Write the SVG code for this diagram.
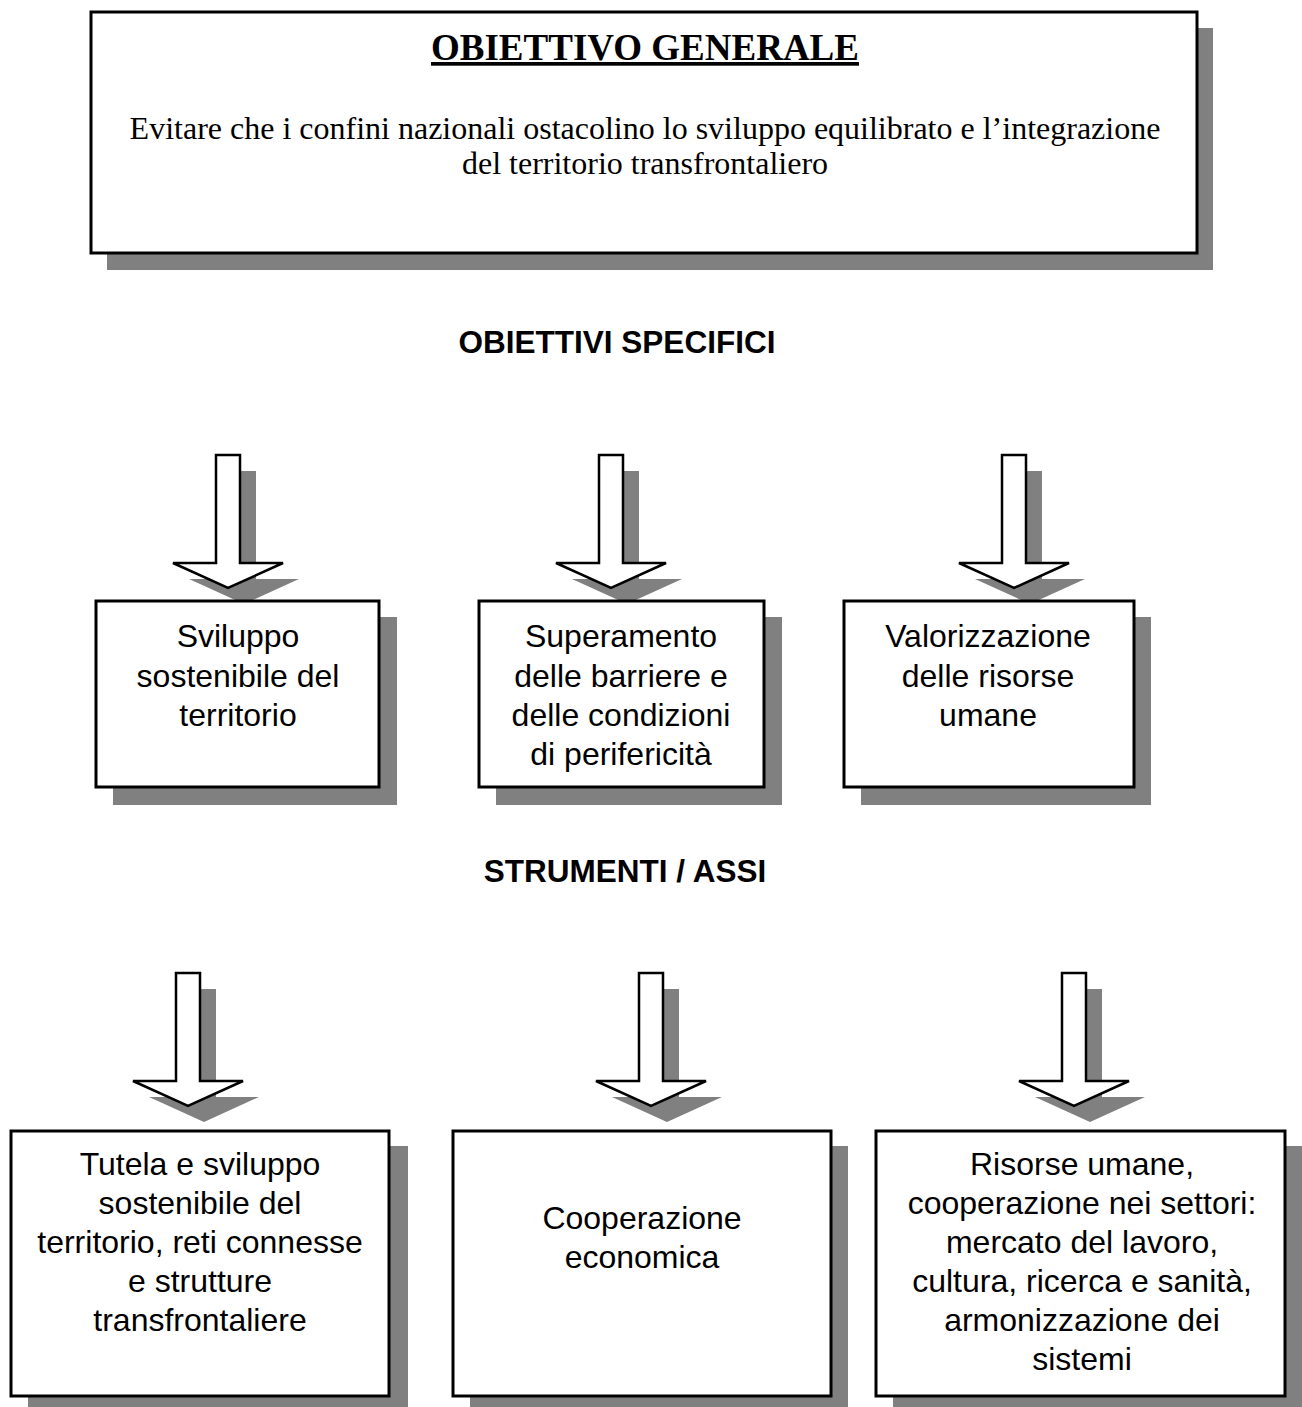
<svg xmlns="http://www.w3.org/2000/svg" xmlns:xlink="http://www.w3.org/1999/xlink" width="1302" height="1407" viewBox="0 0 1302 1407">
<style>
.box{fill:#fff;stroke:#000;stroke-width:3}
.sh{fill:#808080}
.arr{fill:#fff;stroke:#000;stroke-width:2.5;stroke-linejoin:miter}
.t{font-family:"Liberation Sans",Arial,sans-serif;font-size:32px;fill:#000;text-anchor:middle}
.h{font-family:"Liberation Sans",Arial,sans-serif;font-size:31.5px;font-weight:bold;fill:#000;text-anchor:middle}
.s{font-family:"Liberation Serif","Times New Roman",serif;fill:#000;text-anchor:middle}
</style>
<defs>
<polygon id="arrow" points="-12,0 12,0 12,108 55,108 0,133 -55,108 -12,108"/>
</defs>
<rect width="1302" height="1407" fill="#fff"/>
<g id="general">
<rect class="sh" x="107" y="28" width="1106" height="242"/>
<rect class="box" x="91" y="12" width="1106" height="241"/>
<text class="s" x="645" y="60" font-size="37" font-weight="bold" text-decoration="underline">OBIETTIVO GENERALE</text>
<text class="s" x="645" y="139" font-size="32">Evitare che i confini nazionali ostacolino lo sviluppo equilibrato e l’integrazione</text>
<text class="s" x="645" y="174" font-size="32">del territorio transfrontaliero</text>
</g>
<g id="header-specifici"><text class="h" x="617" y="353">OBIETTIVI SPECIFICI</text></g>
<g id="header-strumenti"><text class="h" x="625" y="882">STRUMENTI / ASSI</text></g>
<g id="connectors">
<use href="#arrow" class="sh" x="244" y="471"/>
<use href="#arrow" class="arr" x="228" y="455"/>
<use href="#arrow" class="sh" x="627" y="471"/>
<use href="#arrow" class="arr" x="611" y="455"/>
<use href="#arrow" class="sh" x="1030" y="471"/>
<use href="#arrow" class="arr" x="1014" y="455"/>
<use href="#arrow" class="sh" x="204" y="989"/>
<use href="#arrow" class="arr" x="188" y="973"/>
<use href="#arrow" class="sh" x="667" y="989"/>
<use href="#arrow" class="arr" x="651" y="973"/>
<use href="#arrow" class="sh" x="1090" y="989"/>
<use href="#arrow" class="arr" x="1074" y="973"/>
</g>
<g id="spec1">
<rect class="sh" x="113" y="617" width="284" height="188"/>
<rect class="box" x="96" y="601" width="283" height="186"/>
<text class="t" x="238" y="647">Sviluppo</text>
<text class="t" x="238" y="687">sostenibile del</text>
<text class="t" x="238" y="726">territorio</text>
</g>
<g id="spec2">
<rect class="sh" x="496" y="617" width="286" height="188"/>
<rect class="box" x="479" y="601" width="285" height="186"/>
<text class="t" x="621" y="647">Superamento</text>
<text class="t" x="621" y="687">delle barriere e</text>
<text class="t" x="621" y="726">delle condizioni</text>
<text class="t" x="621" y="765">di perifericità</text>
</g>
<g id="spec3">
<rect class="sh" x="861" y="617" width="290" height="188"/>
<rect class="box" x="844" y="601" width="290" height="186"/>
<text class="t" x="988" y="647">Valorizzazione</text>
<text class="t" x="988" y="687">delle risorse</text>
<text class="t" x="988" y="726">umane</text>
</g>
<g id="asse1">
<rect class="sh" x="28" y="1146" width="380" height="270"/>
<rect class="box" x="11" y="1131" width="378" height="265"/>
<text class="t" x="200" y="1175">Tutela e sviluppo</text>
<text class="t" x="200" y="1214">sostenibile del</text>
<text class="t" x="200" y="1253">territorio, reti connesse</text>
<text class="t" x="200" y="1292">e strutture</text>
<text class="t" x="200" y="1331">transfrontaliere</text>
</g>
<g id="asse2">
<rect class="sh" x="470" y="1146" width="378" height="270"/>
<rect class="box" x="453" y="1131" width="378" height="265"/>
<text class="t" x="642" y="1229">Cooperazione</text>
<text class="t" x="642" y="1268">economica</text>
</g>
<g id="asse3">
<rect class="sh" x="893" y="1146" width="410" height="270"/>
<rect class="box" x="876" y="1131" width="409" height="265"/>
<text class="t" x="1082" y="1175">Risorse umane,</text>
<text class="t" x="1082" y="1214">cooperazione nei settori:</text>
<text class="t" x="1082" y="1253">mercato del lavoro,</text>
<text class="t" x="1082" y="1292">cultura, ricerca e sanità,</text>
<text class="t" x="1082" y="1331">armonizzazione dei</text>
<text class="t" x="1082" y="1370">sistemi</text>
</g>
</svg>
